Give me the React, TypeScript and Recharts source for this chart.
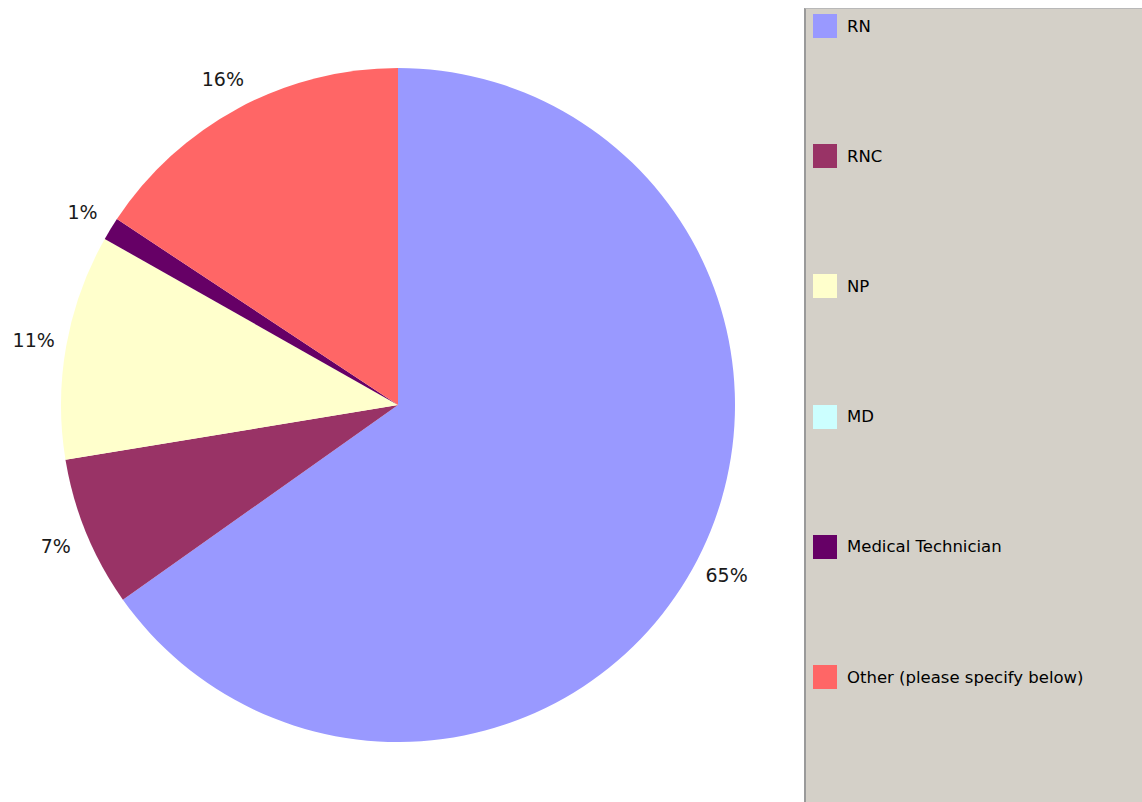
import { JSX } from 'react'
import { PieChart, Pie, Cell, Legend } from 'recharts'

// categories and shares (percent), clockwise from 12 o'clock
const categorias = ['RN', 'RNC', 'NP', 'MD', 'Medical Technician', 'Other (please specify below)']
const valores = [65.2, 7.2, 10.8, 0, 1.1, 15.7]
const cores = ['#9999FF', '#993366', '#FFFFCC', '#CCFFFF', '#660066', '#FF6666']

const dados = categorias.map((name, i) => ({ name, value: valores[i], color: cores[i] }))

const CX = 398
const CY = 405
const RAIO = 337
const RADIAN = Math.PI / 180

function RotuloFatia(props: any): JSX.Element | null {
  const { midAngle, percent } = props
  const pct = Math.round(percent * 100)
  if (!pct) return null
  const r = RAIO + 33
  const x = CX + r * Math.cos(-midAngle * RADIAN)
  const y = CY + r * Math.sin(-midAngle * RADIAN)
  return (
    <text
      x={x}
      y={y}
      textAnchor="middle"
      dominantBaseline="central"
      fill="#1a1a1a"
      fontSize={19}
      fontFamily="DejaVu Sans, sans-serif"
    >
      {pct}%
    </text>
  )
}

function LegendaPainel(): JSX.Element {
  return (
    <div
      style={{
        width: 338,
        height: 794,
        background: '#D4D0C8',
        borderLeft: '2px solid #9A9A9A',
        borderTop: '1px solid #B8B8B8',
        boxSizing: 'border-box',
        position: 'relative',
        fontFamily: 'DejaVu Sans, sans-serif'
      }}
    >
      {dados.map((item, i) => (
        <div
          key={item.name}
          style={{
            position: 'absolute',
            left: 7,
            top: 5 + i * 130.2,
            height: 24,
            display: 'flex',
            alignItems: 'center',
            whiteSpace: 'nowrap'
          }}
        >
          <span
            style={{
              width: 24,
              height: 24,
              background: item.color,
              display: 'inline-block'
            }}
          />
          <span style={{ marginLeft: 10, fontSize: 16.5, color: '#000' }}>{item.name}</span>
        </div>
      ))}
    </div>
  )
}

export default function App(): JSX.Element {
  return (
    <div style={{ position: 'fixed', left: 0, top: 0, width: 1142, height: 802, background: '#fff' }}>
      <PieChart width={1142} height={802} margin={{ top: 0, right: 0, bottom: 0, left: 0 }}>
        <Pie
          data={dados}
          dataKey="value"
          nameKey="name"
          cx={CX}
          cy={CY}
          outerRadius={RAIO}
          startAngle={90}
          endAngle={-270}
          stroke="none"
          label={RotuloFatia}
          labelLine={false}
          isAnimationActive={false}
        >
          {dados.map((entry) => (
            <Cell key={entry.name} fill={entry.color} />
          ))}
        </Pie>
        <Legend
          content={() => <LegendaPainel />}
          wrapperStyle={{ left: 804, top: 8, width: 338, height: 794 }}
        />
      </PieChart>
    </div>
  )
}
